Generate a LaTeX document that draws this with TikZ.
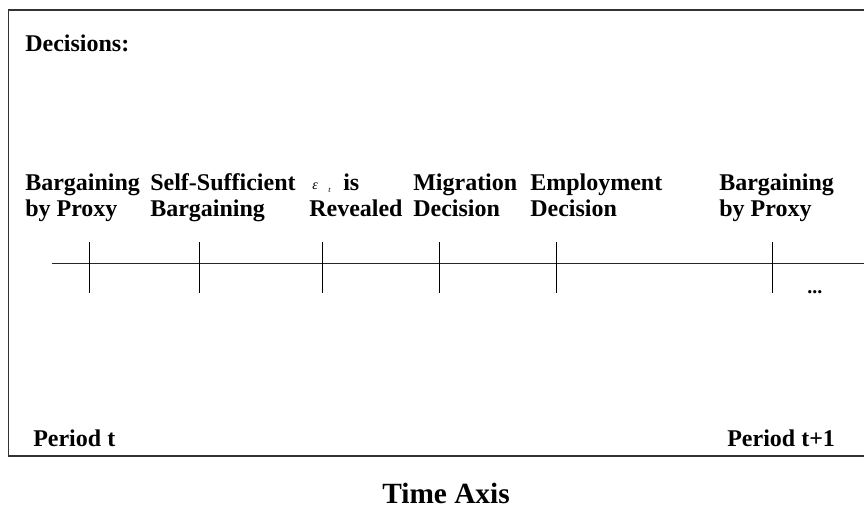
\documentclass[tikz,border=0pt]{standalone}
\usepackage{fontspec}
\setmainfont{Liberation Serif}
\begin{document}
\begin{tikzpicture}[x=0.75pt,y=-0.75pt,
  lbl/.style={anchor=base west,inner sep=0pt,font=\fontsize{18}{20}\selectfont\bfseries},
  big/.style={anchor=base,inner sep=0pt,font=\fontsize{22}{24}\selectfont\bfseries},
  frame/.style={draw=black!80,line width=1.1pt},
  axis/.style={draw=black!85,line width=0.75pt},
  tick/.style={draw=black,line width=0.75pt}]
\useasboundingbox (0,0) rectangle (864,510);
\draw[frame] (8.5,10) rectangle (865,456);
% axis
\coordinate (axL) at (52,263);
\coordinate (axR) at (864,263);
\draw[axis] (axL) -- (axR);
% ticks
\foreach \i/\x in {1/89,2/199,3/322,4/439,5/556,6/772}{
  \coordinate (ta\i) at (\x,242);
  \coordinate (tb\i) at (\x,293);
  \draw[tick] (ta\i) -- (tb\i);
}
% labels
\node[lbl] (dec) at (25,52) {Decisions:};
\node[lbl] (l1a) at (25,190) {Bargaining};
\node[lbl] (l1b) at (25,216) {by Proxy};
\node[lbl] (l2a) at (150,190) {Self-Sufficient};
\node[lbl] (l2b) at (150,216) {Bargaining};
\node[anchor=base west,inner sep=0pt,font=\fontsize{10.5}{12}\selectfont\itshape] (eps) at (312,189) {ε};
\node[anchor=base west,inner sep=0pt,font=\fontsize{6}{7}\selectfont\itshape] (sub) at (328,192) {t};
\node[lbl] (l3a) at (343,190) {is};
\node[lbl] (l3b) at (309,216) {Revealed};
\node[lbl] (l4a) at (413,190) {Migration};
\node[lbl] (l4b) at (413,216) {Decision};
\node[lbl] (l5a) at (530,190) {Employment};
\node[lbl] (l5b) at (530,216) {Decision};
\node[lbl] (l6a) at (719,190) {Bargaining};
\node[lbl] (l6b) at (719,216) {by Proxy};
\node[anchor=base west,inner sep=0pt,font=\fontsize{15}{17}\selectfont\bfseries] (dots) at (807,293) {...};
\node[lbl] (pt) at (33,446) {Period t};
\node[lbl] (pt1) at (727,446) {Period t+1};
\node[big] (ta) at (446,503) {Time Axis};
\end{tikzpicture}
\end{document}
